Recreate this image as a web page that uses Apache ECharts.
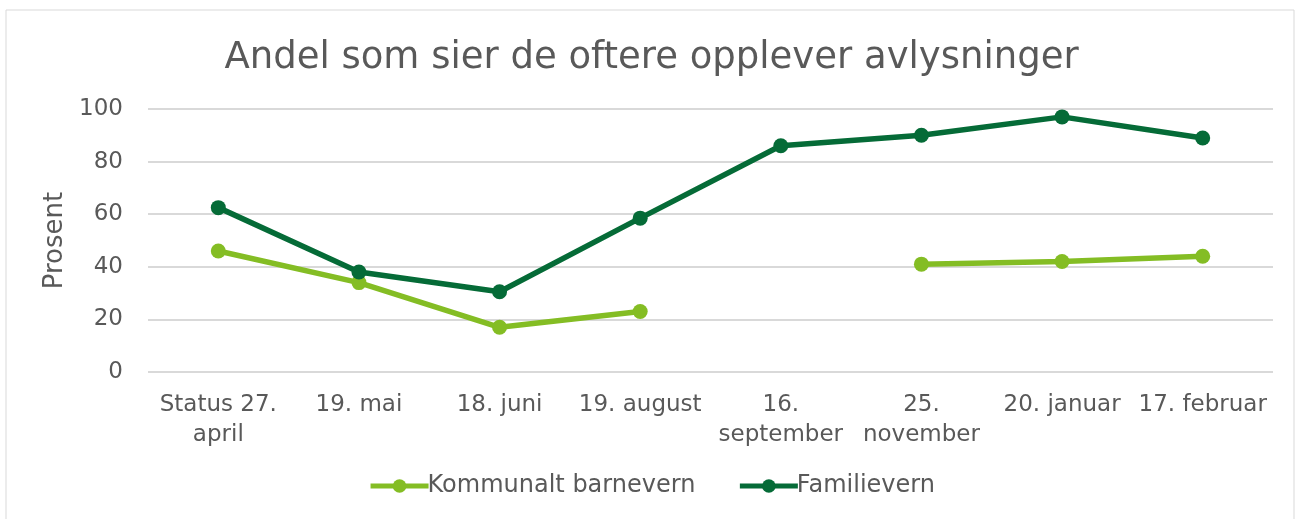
<!DOCTYPE html>
<html>
<head>
<meta charset="utf-8">
<script src="https://cdn.jsdelivr.net/npm/echarts@6/dist/echarts.min.js"></script>
<style>
  html, body { margin: 0; padding: 0; background: #fff; }
  #chart { width: 1303px; height: 519px; }
</style>
</head>
<body>
<div id="chart"></div>
<script>
const categories = ["Status 27.\napril", "19. mai", "18. juni", "19. august", "16.\nseptember", "25.\nnovember", "20. januar", "17. februar"];
const kommunalt = [46, 34, 17, 23, null, 41, 42, 44];
const familievern = [62.5, 38, 30.5, 58.5, 86, 90, 97, 89];
const yTicks = [0, 20, 40, 60, 80, 100];

const textColor = "#595959";
const font = "DejaVu Sans";

const chart = echarts.init(document.getElementById("chart"));

const option = {
  animation: false,
  textStyle: { fontFamily: font },
  title: {
    text: "Andel som sier de oftere opplever avlysninger",
    left: "center",
    top: 35,
    textStyle: { fontFamily: font, fontSize: 37, fontWeight: "normal", color: textColor }
  },
  graphic: [{
    type: "rect",
    shape: { x: 6, y: 10, width: 1288, height: 520 },
    style: { fill: null, stroke: "#d9d9d9", lineWidth: 1 },
    silent: true
  }],
  legend: {
    bottom: 16,
    left: "center",
    itemWidth: 58,
    itemHeight: 17,
    itemGap: 42,
    lineStyle: { width: 5 },
    textStyle: { fontFamily: font, fontSize: 24, color: textColor, padding: [0, 0, 0, -6] },
    data: ["Kommunalt barnevern", "Familievern"]
  },
  grid: { left: 148, right: 30, top: 109, bottom: 147 },
  xAxis: {
    type: "category",
    data: categories,
    axisLine: { show: false },
    axisTick: { show: false },
    axisLabel: { fontFamily: font, fontSize: 23, color: textColor, margin: 18, lineHeight: 30, interval: 0 }
  },
  yAxis: {
    type: "value",
    min: 0,
    max: 100,
    interval: 20,
    name: "Prosent",
    nameLocation: "middle",
    nameRotate: 90,
    nameGap: 76,
    nameTextStyle: { fontFamily: font, fontSize: 26, color: textColor },
    axisLine: { show: false },
    axisTick: { show: false },
    axisLabel: {
      fontFamily: font, fontSize: 23, color: textColor, margin: 25,
      formatter: v => yTicks.includes(v) ? String(v) : ""
    },
    splitLine: { lineStyle: { color: "#d9d9d9", width: 2 } }
  },
  series: [
    {
      name: "Kommunalt barnevern",
      type: "line",
      data: kommunalt,
      connectNulls: false,
      symbol: "circle",
      symbolSize: 15,
      lineStyle: { width: 5.5, color: "#84bd24" },
      itemStyle: { color: "#84bd24" }
    },
    {
      name: "Familievern",
      type: "line",
      data: familievern,
      symbol: "circle",
      symbolSize: 15,
      lineStyle: { width: 5.5, color: "#056b37" },
      itemStyle: { color: "#056b37" }
    }
  ]
};

chart.setOption(option);
</script>
</body>
</html>
